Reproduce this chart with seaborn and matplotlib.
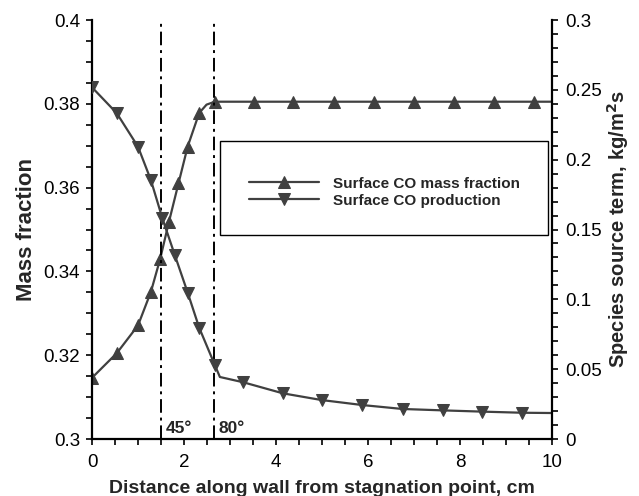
import matplotlib
matplotlib.use("Agg")
import matplotlib.pyplot as plt
import seaborn as sns
import pandas as pd
from matplotlib.patches import Rectangle
from matplotlib.ticker import MultipleLocator, FuncFormatter

# ---- data ----
mf_x = [0.0, 0.54, 1.0, 1.28, 1.48, 1.67, 1.88, 2.08, 2.33, 2.49, 2.67, 3.52, 4.38, 5.26, 6.13, 7.01, 7.87, 8.73, 9.60, 10.0]
mf_y = [0.3146, 0.3205, 0.3271, 0.3351, 0.3429, 0.3517, 0.3610, 0.3698, 0.3778, 0.3798, 0.3805, 0.3805, 0.3805, 0.3805, 0.3805, 0.3805, 0.3805, 0.3805, 0.3805, 0.3805]
mf_marks = [0, 1, 2, 3, 4, 5, 6, 7, 8, 10, 11, 12, 13, 14, 15, 16, 17, 18]

pr_x = [0.0, 0.54, 1.0, 1.28, 1.53, 1.80, 2.08, 2.33, 2.67, 2.78, 3.29, 4.15, 4.99, 5.88, 6.75, 7.62, 8.48, 9.35, 10.0]
pr_y = [0.2518, 0.2332, 0.2093, 0.1854, 0.1580, 0.1317, 0.1048, 0.0797, 0.0530, 0.0444, 0.0406, 0.0327, 0.0279, 0.0243, 0.0215, 0.0205, 0.0196, 0.0188, 0.0186]
pr_marks = [0, 1, 2, 3, 4, 5, 6, 7, 8, 10, 11, 12, 13, 14, 15, 16, 17]

angle_x = [1.5, 2.65]
angle_labels = ["45°", "80°"]

series_names = ["Surface CO mass fraction", "Surface CO production"]

sns.set_style("ticks")
plt.rcParams['font.family'] = ['Liberation Sans', 'DejaVu Sans']

fig = plt.figure(figsize=(6.39, 4.96), dpi=100)
ax = fig.add_axes([92/639, 57/496, 460/639, 419/496])
ax2 = ax.twinx()

col = "#404040"
df1 = pd.DataFrame({"x": mf_x, "y": mf_y})
df2 = pd.DataFrame({"x": pr_x, "y": pr_y})
sns.lineplot(data=df1, x="x", y="y", ax=ax, color=col, lw=1.6, marker="^", ms=9,
             markevery=mf_marks, markeredgecolor=col, label=series_names[0], legend=False)
sns.lineplot(data=df2, x="x", y="y", ax=ax2, color=col, lw=1.6, marker="v", ms=9,
             markevery=pr_marks, markeredgecolor=col, label=series_names[1], legend=False)

for xv, lab in zip(angle_x, angle_labels):
    ax.axvline(xv, color="black", lw=1.4, ls="-.", dashes=(7, 2.5, 1.5, 2.5))
    ax.text(xv + 0.1, 0.3008, lab, fontsize=12.5, fontweight="bold", ha="left", va="bottom")

ax.set_xlim(0, 10)
ax.set_ylim(0.3, 0.4)
ax2.set_ylim(0, 0.3)

ax.xaxis.set_major_locator(MultipleLocator(2))
ax.xaxis.set_minor_locator(MultipleLocator(0.5))
ax.yaxis.set_major_locator(MultipleLocator(0.02))
ax.yaxis.set_minor_locator(MultipleLocator(0.005))
ax2.yaxis.set_major_locator(MultipleLocator(0.05))
ax2.yaxis.set_minor_locator(MultipleLocator(0.01))

fmt = FuncFormatter(lambda v, p: ("%g" % round(v, 4)))
ax.xaxis.set_major_formatter(fmt)
ax.yaxis.set_major_formatter(fmt)
ax2.yaxis.set_major_formatter(fmt)

for a in (ax, ax2):
    a.spines["top"].set_visible(False)
    for s in a.spines.values():
        s.set_linewidth(1.6)
        s.set_color("black")
    a.tick_params(which="both", direction="out", width=1.2, labelsize=13.5, colors="black")
    a.tick_params(which="major", length=4.5)
    a.tick_params(which="minor", length=4)
ax.tick_params(axis="x", which="both", pad=6)
ax.tick_params(axis="y", which="both", pad=4)
ax2.tick_params(axis="y", which="both", pad=5)
ax.spines["right"].set_visible(False)
ax2.spines["left"].set_visible(False)
ax2.spines["bottom"].set_visible(False)

ax.set_xlabel("Distance along wall from stagnation point, cm", fontsize=14, fontweight="bold", labelpad=6.5)
ax.set_ylabel("Mass fraction", fontsize=16, fontweight="bold", labelpad=5)
ax2.set_ylabel("Species source term, kg/m$^\\mathbf{2}$s", fontsize=14.5, fontweight="bold", labelpad=2.5)

# legend frame
ax.add_patch(Rectangle((0.278, 0.486), 0.713, 0.2245, transform=ax.transAxes,
                       fill=True, facecolor="white", edgecolor="black", lw=1.0, zorder=5))
handles = ax.get_lines()[:1] + ax2.get_lines()[:1]
leg = ax2.legend(handles, series_names, loc="center left", bbox_to_anchor=(0.325, 0.589),
                 bbox_transform=ax.transAxes, frameon=False, borderpad=0, handlelength=4.6,
                 handletextpad=0.9, labelspacing=0.2, prop={"weight": "bold", "size": 11})
leg.set_zorder(6)

fig.savefig("out.png", dpi=100)
